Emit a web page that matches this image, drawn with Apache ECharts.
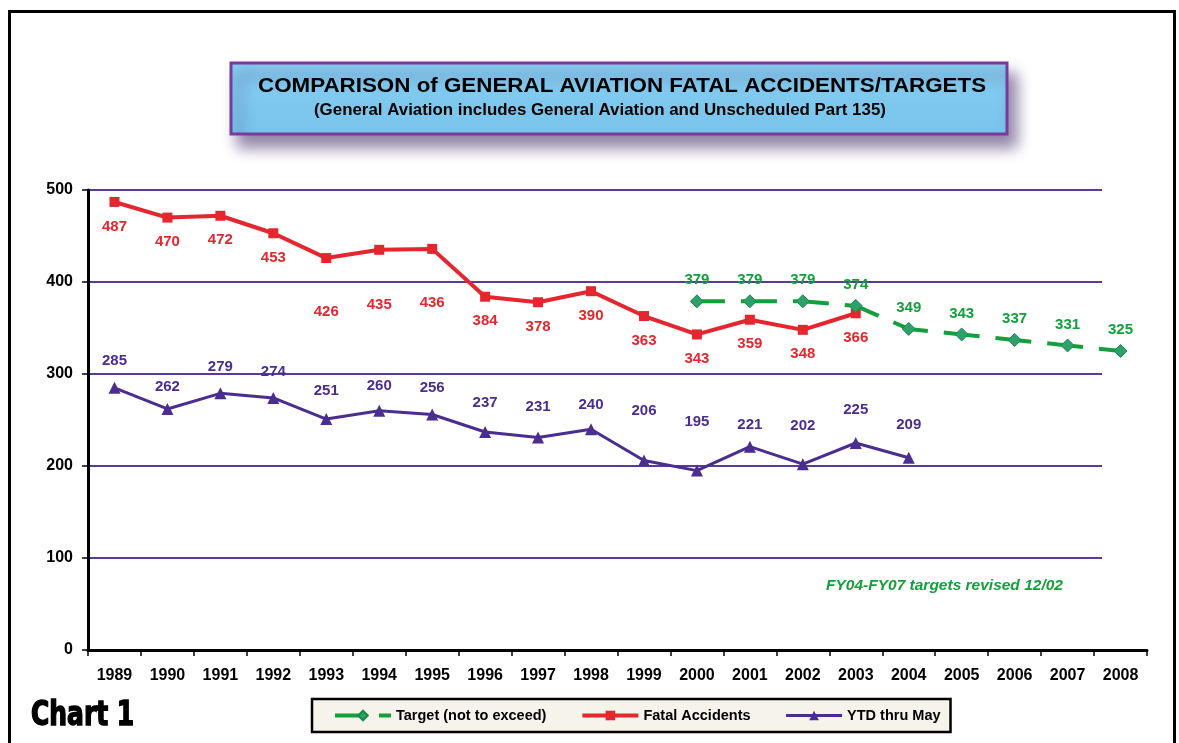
<!DOCTYPE html>
<html>
<head>
<meta charset="utf-8">
<script src="https://cdn.jsdelivr.net/npm/echarts@6/dist/echarts.min.js"></script>
<style>
html,body{margin:0;padding:0;background:#fff;}
#chart{width:1179px;height:743px;}
</style>
</head>
<body>
<div id="chart"></div>
<script>
// ---- data ----
const years = ['1989','1990','1991','1992','1993','1994','1995','1996','1997','1998','1999','2000','2001','2002','2003','2004','2005','2006','2007','2008'];
const fatalAccidents = [487,470,472,453,426,435,436,384,378,390,363,343,359,348,366,null,null,null,null,null];
const ytdThruMay = [285,262,279,274,251,260,256,237,231,240,206,195,221,202,225,209,null,null,null,null];
const target = [null,null,null,null,null,null,null,null,null,null,null,379,379,379,374,349,343,337,331,325];
const yTicks = [0,100,200,300,400,500];

// ---- label placement (styles, not data) ----
const fatalLabelGap = [12,12,12,12,41,43,41,12,12,12,12,12,12,12,12];
const ytdLabelGap = [13,9,13,13,15,11,13,16,17,11,36,35,8,25,20,19];

const FONT = '"Liberation Sans", Arial, sans-serif';
const RED = '#e5262e', PURPLE = '#4b2d8f', GREEN = '#13a03c';

function withLabels(values, gaps, pos) {
  return values.map((v, i) => {
    if (v == null) return null;
    if (!gaps) return v;
    return { value: v, label: { position: pos, distance: gaps[i] } };
  });
}

const chart = echarts.init(document.getElementById('chart'), null, {renderer: 'canvas'});
const option = {
  backgroundColor: '#ffffff',
  animation: false,
  grid: [
    {left: 88, top: 190, right: 77, bottom: 93},
    {left: 88, top: 190, right: 32, bottom: 93}
  ],
  xAxis: [
    {gridIndex: 0, type: 'value', show: false, min: 0, max: 1},
    {
      gridIndex: 1, type: 'category', data: years, boundaryGap: true,
      axisLine: {show: true, onZero: false, lineStyle: {color: '#000', width: 3}},
      axisTick: {show: true, length: 6, lineStyle: {color: '#000', width: 1.5}},
      axisLabel: {color: '#000', fontFamily: FONT, fontWeight: 'bold', fontSize: 16, margin: 18},
      splitLine: {show: false}
    }
  ],
  yAxis: [
    {
      gridIndex: 0, type: 'value', min: yTicks[0], max: yTicks[yTicks.length-1], interval: 100,
      axisLine: {show: false}, axisTick: {show: false}, axisLabel: {show: false},
      splitLine: {show: true, lineStyle: {color: '#5a3a98', width: 2}}
    },
    {
      gridIndex: 1, type: 'value', min: yTicks[0], max: yTicks[yTicks.length-1], interval: 100,
      axisLine: {show: true, lineStyle: {color: '#000', width: 3}},
      axisTick: {show: true, length: 6, lineStyle: {color: '#000', width: 1.5}},
      axisLabel: {color: '#000', fontFamily: FONT, fontWeight: 'bold', fontSize: 16, margin: 15},
      splitLine: {show: false}
    }
  ],
  legend: {
    left: 312, top: 699,
    padding: [9, 10, 9, 21],
    backgroundColor: '#f6f4ea',
    borderColor: '#000', borderWidth: 2.5,
    itemWidth: 56, itemHeight: 12, itemGap: 34,
    textStyle: {color: '#000', fontFamily: FONT, fontWeight: 'bold', fontSize: 14.5},
    data: [
      {name: 'Target (not to exceed)', lineStyle: {width: 4}},
      {name: 'Fatal Accidents', lineStyle: {width: 4}},
      {name: 'YTD thru May', lineStyle: {width: 3}}
    ]
  },
  graphic: [
    {type: 'rect', z: -10, shape: {x: 9.5, y: 11.5, width: 1165, height: 800},
     style: {fill: 'none', stroke: '#000', lineWidth: 3}},
    {type: 'rect', z: 10, shape: {x: 231, y: 63, width: 776, height: 71},
     style: {
       fill: new echarts.graphic.LinearGradient(0,0,0,1,[{offset:0,color:'#86cdf1'},{offset:1,color:'#78c4ec'}]),
       stroke: '#7a3a9c', lineWidth: 3,
       shadowBlur: 14, shadowOffsetX: 8, shadowOffsetY: 12, shadowColor: 'rgba(70,50,110,0.6)'
     }},
    {type: 'text', z: 11, x: 258, y: 76, scaleX: 1.065, style: {
       text: 'COMPARISON of GENERAL AVIATION FATAL ACCIDENTS/TARGETS',
       fill: '#000', font: 'bold 21px ' + FONT }},
    {type: 'text', z: 11, x: 314, y: 103, scaleX: 1.055, style: {
       text: '(General Aviation includes General Aviation and Unscheduled Part 135)',
       fill: '#000', font: 'bold 16px ' + FONT }},
    {type: 'text', z: 11, left: 826, top: 578, style: {
       text: 'FY04-FY07 targets revised 12/02',
       fill: GREEN, font: 'italic bold 15.5px ' + FONT }},
    {type: 'text', z: 11, x: 31, y: 700, scaleX: 0.84, style: {
       text: 'Chart 1',
       fill: '#000', stroke: '#000', lineWidth: 1.4,
       font: 'bold 33px "DejaVu Sans Condensed", "DejaVu Sans", sans-serif' }}
  ],
  series: [
    {
      name: 'Target (not to exceed)', type: 'line', xAxisIndex: 1, yAxisIndex: 1,
      data: target, connectNulls: false,
      symbol: 'diamond', symbolSize: 13,
      itemStyle: {color: '#2f9f6c', borderColor: '#1a8a4a', borderWidth: 1},
      lineStyle: {color: GREEN, width: 4, type: [36, 16], dashOffset: 8},
      label: {show: true, position: 'top', distance: 6.5, color: GREEN,
              fontFamily: FONT, fontWeight: 'bold', fontSize: 15},
      z: 4
    },
    {
      name: 'Fatal Accidents', type: 'line', xAxisIndex: 1, yAxisIndex: 1,
      data: withLabels(fatalAccidents, fatalLabelGap, 'bottom'),
      symbol: 'rect', symbolSize: 10,
      itemStyle: {color: RED},
      lineStyle: {color: RED, width: 4},
      label: {show: true, position: 'bottom', color: RED,
              fontFamily: FONT, fontWeight: 'bold', fontSize: 15},
      z: 3
    },
    {
      name: 'YTD thru May', type: 'line', xAxisIndex: 1, yAxisIndex: 1,
      data: withLabels(ytdThruMay, ytdLabelGap, 'top'),
      symbol: 'triangle', symbolSize: 12,
      itemStyle: {color: PURPLE},
      lineStyle: {color: PURPLE, width: 3},
      label: {show: true, position: 'top', color: PURPLE,
              fontFamily: FONT, fontWeight: 'bold', fontSize: 15},
      z: 3
    }
  ]
};
chart.setOption(option);
</script>
</body>
</html>
